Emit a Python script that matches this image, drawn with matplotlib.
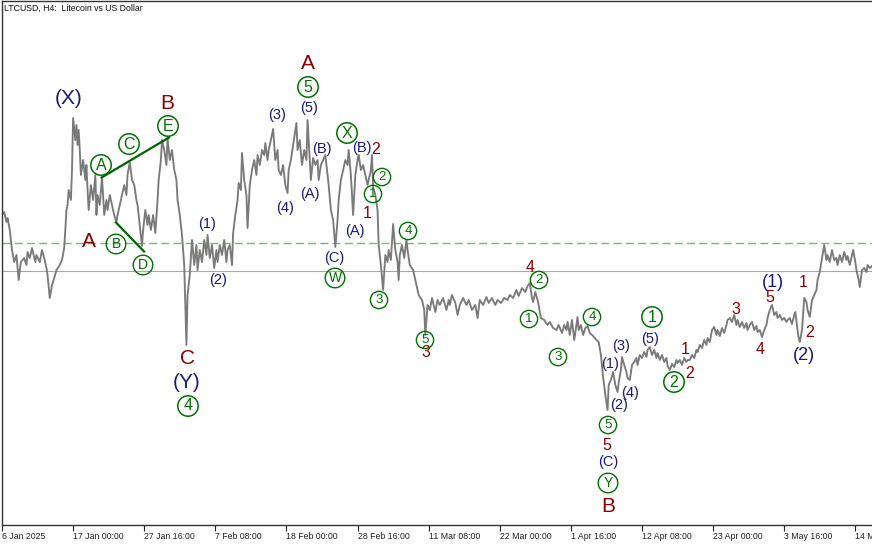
#LTCUSD H4 chart with Elliott wave labels
import matplotlib
matplotlib.use("Agg")
import matplotlib.pyplot as plt
import pandas as pd

#H4 bar index (from 6 Jan 2025 08:00) and price
bars = [0, 2, 4, 5, 7, 9, 11, 13, 14, 15,
        17, 20, 22, 23, 25, 27, 30, 31, 34, 36,
        38, 40, 41, 43, 45, 47, 49, 52, 54, 56,
        57, 58, 59, 60, 62, 63, 64, 66, 67, 68,
        69, 70, 71, 73, 75, 76, 77, 78, 80, 82,
        84, 85, 86, 88, 90, 92, 94, 95, 97, 99,
        101, 103, 104, 106, 108, 110, 112, 113, 115, 117,
        119, 121, 122, 124, 126, 127, 129, 131, 132, 134,
        136, 138, 140, 141, 143, 144, 146, 148, 149, 151,
        153, 155, 157, 158, 160, 162, 164, 166, 167, 169,
        171, 173, 175, 176, 178, 180, 182, 184, 185, 187,
        189, 191, 193, 194, 196, 198, 200, 202, 203, 205,
        207, 208, 210, 212, 213, 215, 216, 218, 220, 221,
        223, 225, 227, 229, 230, 232, 234, 236, 237, 239,
        240, 242, 244, 246, 248, 249, 251, 253, 255, 257,
        258, 260, 262, 264, 265, 266, 268, 270, 272, 274,
        275, 277, 278, 280, 282, 284, 285, 287, 289, 291,
        293, 294, 296, 298, 300, 302, 303, 305, 307, 309,
        311, 312, 314, 316, 318, 320, 321, 323, 325, 327,
        329, 330, 332, 333, 334, 336, 338, 339, 341, 343,
        345, 347, 348, 350, 352, 354, 356, 357, 358, 360,
        362, 364, 365, 367, 370, 373, 375, 378, 380, 381,
        383, 385, 387, 390, 392, 394, 397, 400, 402, 403,
        405, 408, 410, 412, 415, 418, 420, 423, 426, 428,
        430, 433, 436, 438, 441, 444, 446, 449, 452, 455,
        457, 460, 463, 465, 468, 471, 473, 475, 477, 478,
        480, 482, 483, 485, 488, 491, 493, 496, 499, 501,
        504, 506, 508, 509, 511, 513, 515, 517, 518, 519,
        521, 523, 525, 527, 529, 532, 535, 537, 539, 541,
        543, 545, 546, 548, 550, 552, 554, 555, 557, 558,
        560, 562, 563, 565, 567, 569, 571, 572, 574, 576,
        578, 580, 581, 583, 585, 587, 589, 590, 592, 594,
        596, 598, 599, 601, 603, 605, 607, 608, 610, 612,
        614, 616, 617, 619, 621, 623, 625, 626, 628, 630,
        632, 634, 635, 637, 639, 641, 643, 644, 646, 648,
        650, 652, 653, 655, 657, 659, 661, 662, 664, 666,
        668, 670, 671, 673, 675, 677, 679, 680, 682, 684,
        686, 688, 689, 691, 693, 695, 697, 698, 700, 702,
        704, 706, 707, 709, 711, 713, 714, 716, 717, 718,
        720, 722, 724, 725, 727, 729, 731, 733, 734, 736,
        738, 740, 742, 743, 745, 747, 749, 751, 752, 754,
        756, 758, 760, 761, 763, 765, 766, 768, 769, 771,
        772, 774, 776, 778, 779, 781, 783]

prices = [107.0, 107.6, 105.6, 106.4, 104.0, 100.0, 97.6, 99.0, 96.4, 94.0,
          97.6, 98.4, 97.0, 99.6, 98.4, 100.4, 97.6, 99.0, 97.6, 100.0,
          98.4, 96.4, 95.0, 90.4, 93.0, 94.4, 96.0, 97.0, 98.0, 100.4,
          104.0, 108.0, 109.0, 112.0, 110.0, 116.0, 126.4, 122.0, 125.0, 121.0,
          124.0, 120.0, 115.0, 118.0, 114.0, 117.0, 112.0, 108.0, 113.0, 110.0,
          115.0, 107.0, 111.0, 109.0, 114.6, 107.0, 110.0, 108.0, 111.0, 109.0,
          107.0, 105.6, 107.0, 109.0, 111.0, 113.0, 111.0, 115.0, 117.6, 114.0,
          113.0, 110.0, 109.0, 105.0, 100.8, 104.0, 108.0, 105.0, 107.0, 104.0,
          107.0, 103.4, 110.0, 114.0, 118.0, 122.0, 120.0, 117.0, 122.4, 118.0,
          120.0, 116.0, 114.0, 110.0, 107.0, 103.0, 97.0, 81.0, 91.0, 95.0,
          102.0, 97.0, 101.0, 96.0, 100.0, 97.6, 102.0, 99.0, 103.0, 98.4,
          101.0, 96.4, 100.0, 97.6, 101.0, 99.0, 102.0, 97.6, 100.0, 101.0,
          97.0, 103.4, 107.0, 110.0, 113.4, 112.0, 119.4, 114.0, 111.0, 104.4,
          113.0, 116.0, 118.0, 115.0, 119.0, 117.0, 120.0, 119.0, 121.4, 118.0,
          120.0, 122.0, 124.2, 118.0, 120.0, 116.0, 115.0, 117.0, 113.0, 111.4,
          116.0, 118.0, 121.0, 124.0, 125.4, 120.0, 122.0, 117.0, 120.0, 118.0,
          126.0, 118.0, 114.0, 118.4, 117.0, 118.0, 114.0, 117.0, 118.0, 119.0,
          115.0, 113.0, 108.0, 106.0, 100.6, 106.0, 110.0, 114.0, 116.0, 118.0,
          117.0, 120.0, 115.0, 107.0, 115.0, 118.0, 119.0, 116.0, 117.0, 115.0,
          113.0, 114.0, 116.0, 119.0, 112.6, 111.0, 108.0, 101.0, 97.0, 92.0,
          99.0, 97.6, 100.0, 98.0, 105.2, 100.0, 97.6, 94.0, 99.0, 101.0,
          98.4, 102.0, 100.0, 97.0, 96.0, 93.0, 91.0, 90.0, 88.0, 83.0,
          89.0, 88.0, 90.4, 87.6, 90.0, 89.0, 90.4, 88.0, 90.0, 89.0,
          91.0, 89.4, 87.0, 89.0, 90.4, 89.0, 90.0, 88.0, 89.0, 86.4,
          90.0, 89.0, 90.6, 89.4, 90.4, 89.0, 90.0, 89.4, 90.4, 90.0,
          91.0, 90.4, 92.0, 90.8, 92.4, 91.6, 92.8, 93.4, 90.4, 89.6,
          91.6, 90.0, 89.0, 86.4, 86.0, 85.0, 85.6, 84.4, 84.0, 85.0,
          83.4, 85.0, 84.0, 85.6, 83.0, 86.0, 82.0, 85.0, 86.6, 84.0,
          85.0, 83.0, 84.4, 84.8, 83.4, 82.8, 82.0, 81.6, 79.0, 74.6,
          71.0, 68.0, 73.0, 74.0, 75.6, 73.0, 71.6, 73.4, 76.0, 78.6,
          77.0, 75.6, 74.4, 74.0, 77.0, 77.6, 78.4, 77.0, 79.0, 78.4,
          79.6, 78.6, 80.0, 80.6, 79.0, 80.0, 78.4, 79.4, 78.0, 79.0,
          77.6, 78.4, 76.8, 76.0, 77.2, 76.6, 78.0, 77.4, 78.0, 77.0,
          78.4, 77.6, 78.0, 78.0, 79.0, 78.4, 80.0, 79.6, 81.0, 80.4,
          82.0, 81.0, 82.4, 81.6, 84.0, 84.6, 83.0, 84.0, 82.8, 84.4,
          83.4, 85.0, 86.0, 86.4, 85.6, 87.0, 85.0, 86.0, 84.6, 85.6,
          84.4, 85.4, 84.0, 85.0, 85.6, 84.0, 84.8, 83.6, 84.0, 82.6,
          84.0, 85.0, 86.4, 88.0, 89.0, 87.0, 87.6, 86.4, 87.0, 86.0,
          86.4, 85.6, 86.0, 86.4, 85.2, 87.0, 87.6, 84.0, 82.4, 81.6,
          84.0, 90.4, 89.6, 88.0, 86.6, 90.0, 91.0, 92.0, 94.0, 95.6,
          98.4, 101.0, 98.0, 99.0, 97.6, 100.0, 98.0, 98.4, 97.0, 99.0,
          97.6, 99.6, 98.0, 98.8, 97.0, 99.0, 100.0, 97.6, 96.0, 94.0,
          92.6, 96.0, 96.4, 95.6, 97.0, 96.4, 96.8]

assert len(bars) == len(prices), (len(bars), len(prices))

start_time = pd.Timestamp("2025-01-06 08:00")
tick_bars = list(range(0, 832, 64))

bid_price = 95.8      #solid gray line
level_price = 101.4   #green dashed line

#triangle lines (A-C-E and B-D)
upper_bar = [89.7, 150.3]
upper_price = [114.5, 122.5]
lower_bar = [102.6, 127.8]
lower_price = [105.5, 99.7]

#wave labels: text, bar, price
red_big = ["B", "A", "C", "A", "B"]
red_big_bar = [148.5, 78.3, 166.5, 275.4, 545.4]
red_big_price = [129.4, 101.8, 78.4, 137.4, 48.6]

red_small = ["2", "1", "3", "4", "5", "1", "2", "3", "4", "5", "1", "2"]
red_small_bar = [336.6, 328.5, 381.6, 475.2, 544.5, 614.7, 619.2, 660.6, 682.2, 691.2, 720.9, 727.2]
red_small_price = [120.2, 107.4, 79.6, 96.4, 61.0, 80.0, 75.2, 88.2, 80.2, 90.6, 93.6, 83.6]

navy_big = ["(X)", "(Y)"]
navy_big_bar = [60.3, 166.5]
navy_big_price = [130.4, 73.4]

navy_mid = ["(1)", "(2)"]
navy_mid_bar = [694.1, 721.8]
navy_mid_price = [93.6, 78.8]

navy_small = ["(1)", "(2)", "(3)", "(4)", "(5)", "(A)", "(B)", "(C)", "(A)", "(B)",
              "(1)", "(2)", "(3)", "(4)", "(5)", "(C)"]
navy_small_bar = [184.5, 194.4, 247.5, 254.7, 276.3, 277.2, 288.0, 298.8, 317.7, 324.0,
                  547.2, 555.3, 557.1, 565.2, 583.2, 545.4]
navy_small_price = [105.2, 94.0, 127.0, 108.4, 128.4, 111.2, 120.2, 98.4, 103.8, 120.4,
                    77.2, 69.0, 80.8, 71.4, 82.2, 57.6]

green_big = ["A", "C", "E", "4", "5", "X", "1", "2"]
green_big_bar = [89.1, 114.3, 149.4, 167.4, 275.4, 310.5, 585.0, 604.8]
green_big_price = [117.0, 121.2, 124.8, 68.8, 132.6, 123.4, 86.6, 73.6]

green_mid = ["B", "D", "W", "Y"]
green_mid_bar = [102.6, 126.9, 299.7, 545.4]
green_mid_price = [101.2, 97.0, 94.4, 53.4]

green_small = ["2", "1", "4", "3", "5", "2", "1", "3", "4", "5"]
green_small_bar = [342.0, 333.9, 365.4, 339.3, 380.7, 483.3, 474.3, 500.4, 531.0, 545.4]
green_small_price = [114.6, 111.2, 103.8, 90.0, 82.0, 94.0, 86.2, 78.6, 86.6, 65.0]

RED = "#8b0000"
NAVY = "#1a1a78"
GREEN = "#007000"
FONT = "Liberation Sans"

fig = plt.figure(figsize=(8.72, 5.45), dpi=100)
ax = fig.add_axes([2 / 872, 20 / 545, 870 / 872, 524 / 545])

ax.plot(bars, prices, color="#7a7a7a", lw=1.35, zorder=2)
ax.axhline(bid_price, color="#a8a8a8", lw=0.8, zorder=1)
ax.axhline(level_price, color="#6cbf6c", lw=1.0, dashes=(5.8, 3.0), zorder=1)
ax.plot(upper_bar, upper_price, color="#006400", lw=1.6, zorder=3)
ax.plot(lower_bar, lower_price, color="#006400", lw=1.6, zorder=3)

def put_labels(texts, xs, ys, color, size, pad=None, lw=1.0):
    for t, x, y in zip(texts, xs, ys):
        kw = {}
        if pad is not None:
            kw["bbox"] = dict(boxstyle=f"circle,pad={pad}", fc="none", ec=color, lw=lw)
        ax.text(x, y, t, color=color, fontsize=size, family=FONT,
                ha="center", va="center", zorder=4, **kw)

put_labels(red_big, red_big_bar, red_big_price, RED, 15)
put_labels(red_small, red_small_bar, red_small_price, RED, 11.5)
put_labels(navy_big, navy_big_bar, navy_big_price, NAVY, 15)
put_labels(navy_mid, navy_mid_bar, navy_mid_price, NAVY, 13)
put_labels(navy_small, navy_small_bar, navy_small_price, NAVY, 10.5)
put_labels(green_big, green_big_bar, green_big_price, GREEN, 11.5, pad=0.17, lw=1.1)
put_labels(green_mid, green_mid_bar, green_mid_price, GREEN, 10, pad=0.2)
put_labels(green_small, green_small_bar, green_small_price, GREEN, 9.5, pad=0.2)

ax.set_xlim(0, 783)
ax.set_ylim(45, 149.8)

#x axis labels like MT4
tick_labels = []
for b in tick_bars:
    t = start_time + pd.Timedelta(hours=4 * b)
    if b == 0:
        tick_labels.append(f"{t.day} {t.strftime('%b %Y')}")
    else:
        tick_labels.append(f"{t.day} {t.strftime('%b %H:%M')}")
ax.set_xticks(tick_bars)
ax.set_xticklabels(tick_labels, ha="left", family=FONT)
ax.tick_params(axis="x", length=4, width=0.8, pad=1.2, labelsize=6.3, colors="#222222")
ax.set_yticks([])

for side in ["left", "top", "bottom"]:
    ax.spines[side].set_color("#333333")
    ax.spines[side].set_linewidth(1.0)
ax.spines["right"].set_visible(False)

fig.text(4 / 872, 1 - 8 / 545, "LTCUSD, H4:  Litecoin vs US Dollar",
         fontsize=6.3, family=FONT, ha="left", va="center", color="#111111")

fig.savefig("out.png", dpi=100)
